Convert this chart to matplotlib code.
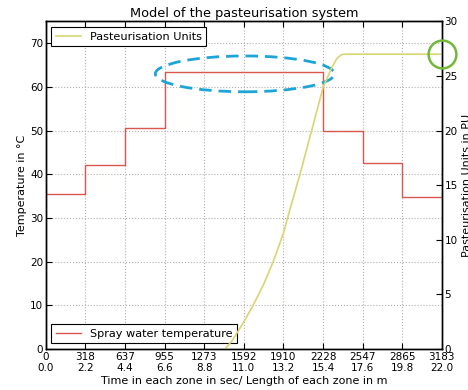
import numpy as np
import matplotlib
matplotlib.use("Agg")
import matplotlib.pyplot as plt
from matplotlib.patches import Ellipse

# Zone boundaries (time in s) and the spray water temperature in each zone (°C)
zone_edges = [0, 318.34, 636.68, 955.02, 1273.36, 1591.7, 1910.04, 2228.38, 2546.72, 2865.06, 3183.4]
spray_temp = [35.5, 42.2, 50.7, 63.5, 63.5, 63.5, 63.5, 50.0, 42.6, 34.8]

# Accumulated pasteurisation units along the tunnel
pu_time = [1440, 1500, 1533, 1592, 1666, 1750, 1828, 1910, 1943, 2043, 2137, 2230, 2300, 2340, 2375, 2398, 3183.4]
pu_value = [0.0, 0.8, 1.4, 2.5, 4.0, 5.9, 8.0, 10.6, 12.0, 16.0, 20.0, 24.0, 25.8, 26.6, 26.95, 27.0, 27.0]

time_labels = ["0", "318", "637", "955", "1273", "1592", "1910", "2228", "2547", "2865", "3183"]
length_labels = ["0.0", "2.2", "4.4", "6.6", "8.8", "11.0", "13.2", "15.4", "17.6", "19.8", "22.0"]

plt.rcParams.update({
    "font.family": "DejaVu Sans",
    "xtick.direction": "in",
    "ytick.direction": "in",
    "font.size": 7.5,
})

fig = plt.figure(figsize=(4.68, 3.9), dpi=100)
ax1 = fig.add_axes([0.098, 0.105, 0.846, 0.840])
ax2 = ax1.twinx()

red = "#d9574f"
yellow = "#d9d570"

temp_steps = spray_temp + [spray_temp[-1]]
ax1.plot(zone_edges, temp_steps, drawstyle="steps-post", color=red, lw=1.0,
         label="Spray water temperature")
ax2.plot(pu_time, pu_value, color=yellow, lw=1.2, label="Pasteurisation Units")

ax1.set_xlim(0, zone_edges[-1])
ax1.set_ylim(0, 75)
ax2.set_ylim(0, 30)
ax1.set_yticks(np.arange(0, 71, 10))
ax2.set_yticks(np.arange(0, 31, 5))
ax1.set_xticks(zone_edges)
ax1.set_xticklabels([f"{t}\n{l}" for t, l in zip(time_labels, length_labels)])

ax1.grid(True, color="#b0b0b0", linestyle=":", lw=0.8)
for ax in (ax1, ax2):
    ax.tick_params(length=4, width=0.8, labelsize=7.5, pad=2)
    for s in ax.spines.values():
        s.set_linewidth(1.0)
ax1.tick_params(top=True)

ax1.set_title("Model of the pasteurisation system", fontsize=9.3, pad=3)
ax1.set_ylabel("Temperature in °C", fontsize=8, labelpad=2)
ax2.set_ylabel("Pasteurisation Units in PU", fontsize=8, labelpad=3)
ax1.set_xlabel("Time in each zone in sec/ Length of each zone in m", fontsize=8, labelpad=2)

leg1 = ax1.legend(loc="lower left", fontsize=8.1, fancybox=False, framealpha=1,
                  borderaxespad=0.5, handlelength=2.2)
leg2 = ax2.legend(loc="upper left", fontsize=8.1, fancybox=False, framealpha=1,
                  borderaxespad=0.5, handlelength=2.2)
for leg in (leg1, leg2):
    leg.get_frame().set_edgecolor("black")
    leg.get_frame().set_linewidth(0.8)

# Highlight the holding zone and the final PU value
ax1.add_patch(Ellipse((1600, 63.0), 1440, 8.2, fill=False, edgecolor="#1ea5d8",
                      lw=2.0, linestyle=(0, (4.5, 2.5)), zorder=5))
ax2.plot([zone_edges[-1]], [27.0], marker="o", markersize=20, markerfacecolor="none",
         markeredgecolor="#72b83a", markeredgewidth=1.8, clip_on=False, zorder=6)

fig.savefig("out.png", dpi=100)
